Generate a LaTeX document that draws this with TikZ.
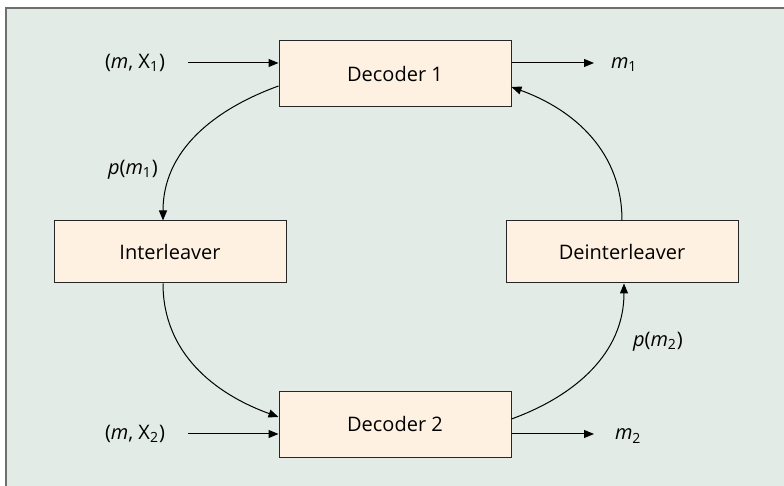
\documentclass[tikz,border=0pt]{standalone}
\usepackage{fontspec}
\setmainfont{Open Sans}
\usetikzlibrary{arrows.meta}
\definecolor{panel}{HTML}{E2EBE6}
\definecolor{boxfill}{HTML}{FFF1E2}
\definecolor{frameline}{HTML}{6E6E6E}

\begin{document}
\begin{tikzpicture}[x=0.5pt,y=0.5pt,>={Triangle[length=5pt,width=4pt]},font=\fontsize{10}{12}\selectfont]
                    \useasboundingbox (0,0) rectangle (784,486);
                    \fill[panel] (6,0) rectangle (784,478);
                    \draw[frameline,line width=1pt] (6,0) -- (6,478) -- (784,478);
                    \begin{scope}[every node/.style={rectangle,draw=black!85,fill=boxfill,line width=0.5pt,minimum width=116pt,inner sep=0pt}]
                        \node[minimum height=33pt] (D1) at (395,412) {Decoder 1};
                        \node[minimum height=33pt] (D2) at (395,61.5) {Decoder 2};
                        \node[minimum height=31pt] (IL) at (170,234) {Interleaver};
                        \node[minimum height=31pt] (DIL) at (622,234) {Deinterleaver};
                    \end{scope}
                    \coordinate (in1) at (188,423);
                    \coordinate (out1) at (594,423);
                    \coordinate (in2) at (188,52);
                    \coordinate (out2) at (594,52);
                    \node[anchor=east] (lin1) at (172,423) {({\itshape m}, X\textsubscript{1})};
                    \node[anchor=east] (lin2) at (172,52) {({\itshape m}, X\textsubscript{2})};
                    \node[anchor=west] (lout1) at (604,421) {{\itshape m}\textsubscript{1}};
                    \node[anchor=west] (lout2) at (608,50) {{\itshape m}\textsubscript{2}};
                    \node (lp1) at (133,316) {{\itshape p}({\itshape m}\textsubscript{1})};
                    \node (lp2) at (658,144) {{\itshape p}({\itshape m}\textsubscript{2})};
                    \begin{scope}[every edge/.style={draw=black,line width=0.5pt,->}]
                        \draw (in1) edge (in1 -| D1.west);
                        \draw (in1 -| D1.east) edge (out1);
                        \draw (in2) edge (in2 -| D2.west);
                        \draw (in2 -| D2.east) edge (out2);
                        \draw ([yshift=-6pt]D1.west) edge[out=200,in=90] ([xshift=-3.5pt]IL.north);
                        \draw ([xshift=-3.5pt]IL.south) edge[out=-90,in=160] ([yshift=3.75pt]D2.west);
                        \draw ([yshift=2.75pt]D2.east) edge[out=20,in=-90] ([xshift=1pt]DIL.south);
                        \draw (DIL.north) edge[out=90,in=-20] ([yshift=-6.5pt]D1.east);
                    \end{scope}
                \end{tikzpicture}
\end{document}
